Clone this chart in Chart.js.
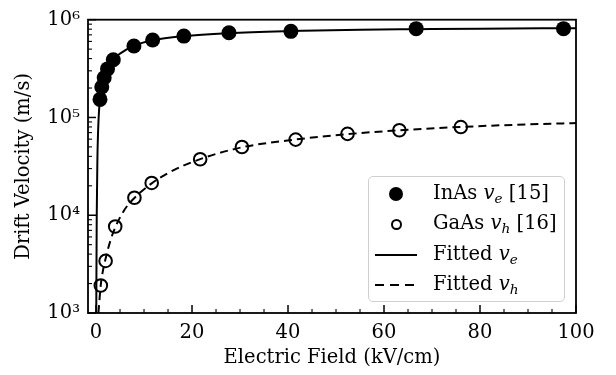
<!DOCTYPE html>
<html><head><meta charset="utf-8">
<script src="https://cdn.jsdelivr.net/npm/chart.js@4.4.1/dist/chart.umd.min.js"></script>
<style>
html,body{margin:0;padding:0;background:#fff;}
#wrap{position:relative;width:616px;height:375px;overflow:hidden;}
canvas{display:block;}
#legend{position:absolute;left:368px;top:176px;width:197px;height:126px;border:1.5px solid #cfcfcf;border-radius:5px;background:rgba(255,255,255,0.8);font-family:'DejaVu Serif',serif;font-size:19.5px;color:#000;box-sizing:border-box;}
.row{position:absolute;left:0;width:100%;height:0;}
.lbl{position:absolute;left:64px;top:-13px;line-height:24px;white-space:nowrap;}
.lbl i{font-style:italic;}
.lbl sub{font-size:70%;vertical-align:-0.3em;line-height:0;font-style:italic;}
.mk{position:absolute;box-sizing:border-box;}
.fill{left:20px;top:-7px;width:14px;height:14px;border-radius:50%;background:#000;}
.open{left:21.5px;top:-5.5px;width:11px;height:11px;border-radius:50%;border:2px solid #000;}
.solid{left:6px;top:-1px;width:42px;height:2px;background:#000;}
.dash{left:6px;top:-1px;width:41px;height:2px;background:repeating-linear-gradient(90deg,#000 0 9px,transparent 9px 15px);}
</style>
</head><body>
<div id="wrap">
<canvas id="c" width="616" height="375"></canvas>
<div id="legend">
  <div class="row" style="top:17px"><div class="mk fill"></div><div class="lbl">InAs <i>v</i><sub>e</sub> [15]</div></div>
  <div class="row" style="top:47px"><div class="mk open"></div><div class="lbl">GaAs <i>v</i><sub>h</sub> [16]</div></div>
  <div class="row" style="top:78px"><div class="mk solid"></div><div class="lbl">Fitted <i>v</i><sub>e</sub></div></div>
  <div class="row" style="top:108px"><div class="mk dash"></div><div class="lbl">Fitted <i>v</i><sub>h</sub></div></div>
</div>
</div>
<script>
// ---- data ----
const inasField = [0.83, 1.2, 1.7, 2.4, 3.6, 7.9, 11.8, 18.3, 27.7, 40.6, 66.7, 97.4];
const inasVel   = [1.53e5, 2.05e5, 2.55e5, 3.14e5, 3.89e5, 5.38e5, 6.2e5, 6.8e5, 7.35e5, 7.6e5, 8.1e5, 8.1e5];

const gaasField = [1.0, 2.0, 4.0, 8.0, 11.6, 21.7, 30.4, 41.6, 52.4, 63.2, 76.0];
const gaasVel   = [1.91e3, 3.41e3, 7.67e3, 1.51e4, 2.14e4, 3.74e4, 4.99e4, 5.94e4, 6.8e4, 7.4e4, 7.98e4];

const fitEField = [0.05, 0.15, 0.3, 0.55, 0.83, 1.2, 1.7, 2.4, 3.6, 5.0, 7.9, 11.8, 18.3, 27.7, 40.0, 55.0, 67.0, 80.0, 100.0];
const fitEVel   = [1.0e3, 1.0e4, 4.0e4, 1.0e5, 1.52e5, 2.03e5, 2.55e5, 3.12e5, 3.9e5, 4.5e5, 5.4e5, 6.15e5, 6.8e5, 7.3e5, 7.65e5, 7.9e5, 8.0e5, 8.1e5, 8.2e5];

const fitHField = [0.5, 1.0, 1.5, 2.0, 3.0, 4.0, 6.0, 8.0, 11.6, 15.0, 21.7, 30.4, 41.6, 52.4, 63.2, 76.0, 90.0, 100.0];
const fitHVel   = [1.0e3, 1.95e3, 2.8e3, 3.6e3, 5.5e3, 7.5e3, 1.15e4, 1.5e4, 2.12e4, 2.7e4, 3.75e4, 4.95e4, 5.95e4, 6.75e4, 7.4e4, 8.0e4, 8.5e4, 8.77e4];

const xMajorTicks = [0, 20, 40, 60, 80, 100];
const xMinorTicks = [5, 10, 15, 25, 30, 35, 45, 50, 55, 65, 70, 75, 85, 90, 95];
const yMajorTicks = [1e3, 1e4, 1e5, 1e6];
const yMajorLabels = ['10³', '10⁴', '10⁵', '10⁶'];
const yMinorTicks = [2e3,3e3,4e3,5e3,6e3,7e3,8e3,9e3,2e4,3e4,4e4,5e4,6e4,7e4,8e4,9e4,2e5,3e5,4e5,5e5,6e5,7e5,8e5,9e5];

const toXY = (xs, ys) => xs.map((x, i) => ({x, y: ys[i]}));

Chart.defaults.font.family = "'DejaVu Serif', serif";
Chart.defaults.color = '#000';

const frameTicks = {
  id: 'frameTicks',
  afterDraw(chart) {
    const {ctx, chartArea: {left, right, top, bottom}, scales: {x, y}} = chart;
    ctx.save();
    ctx.strokeStyle = '#000';
    const seg = (x1, y1, x2, y2) => { ctx.beginPath(); ctx.moveTo(x1, y1); ctx.lineTo(x2, y2); ctx.stroke(); };
    ctx.lineWidth = 1.5;
    xMajorTicks.forEach(v => { const p = x.getPixelForValue(v); seg(p, bottom, p, bottom - 8); });
    yMajorTicks.forEach(v => { const p = y.getPixelForValue(v); seg(left, p, left + 8, p); });
    ctx.lineWidth = 1.1;
    xMinorTicks.forEach(v => { const p = x.getPixelForValue(v); seg(p, bottom, p, bottom - 4); });
    yMinorTicks.forEach(v => { const p = y.getPixelForValue(v); seg(left, p, left + 4, p); });
    ctx.lineWidth = 1.8;
    ctx.strokeRect(left, top, right - left, bottom - top);
    ctx.restore();
  }
};

new Chart(document.getElementById('c'), {
  type: 'scatter',
  data: {
    datasets: [
      { label: 'InAs ve [15]', data: toXY(inasField, inasVel), showLine: false,
        pointRadius: 7.5, pointBackgroundColor: '#000', pointBorderColor: '#000', pointBorderWidth: 0 },
      { label: 'GaAs vh [16]', data: toXY(gaasField, gaasVel), showLine: false,
        pointRadius: 6.3, pointBackgroundColor: 'rgba(0,0,0,0)', pointBorderColor: '#000', pointBorderWidth: 2 },
      { label: 'Fitted ve', data: toXY(fitEField, fitEVel), showLine: true, pointRadius: 0,
        borderColor: '#000', borderWidth: 2, cubicInterpolationMode: 'monotone' },
      { label: 'Fitted vh', data: toXY(fitHField, fitHVel), showLine: true, pointRadius: 0,
        borderColor: '#000', borderWidth: 2, borderDash: [8, 5], cubicInterpolationMode: 'monotone' }
    ]
  },
  options: {
    responsive: false,
    animation: false,
    events: [],
    layout: { padding: { left: 0, right: 40, top: 15, bottom: 0 } },
    plugins: { legend: { display: false }, tooltip: { enabled: false } },
    scales: {
      x: {
        type: 'linear', min: -1.67, max: 100,
        grid: { display: false, drawTicks: false },
        border: { display: false },
        afterBuildTicks: s => { s.ticks = xMajorTicks.map(v => ({value: v})); },
        afterFit: s => { s.height = 62; },
        ticks: { font: { size: 19.5 }, padding: 8, maxRotation: 0, autoSkip: false, callback: v => String(v) },
        title: { display: true, text: 'Electric Field (kV/cm)', font: { size: 19.5 }, padding: { top: 0, bottom: 5 } }
      },
      y: {
        type: 'logarithmic', min: 1e3, max: 1e6,
        grid: { display: false, drawTicks: false },
        border: { display: false },
        afterBuildTicks: s => { s.ticks = yMajorTicks.map(v => ({value: v})); },
        afterFit: s => { s.width = 88; },
        ticks: { font: { size: 19.5 }, padding: 8, autoSkip: false,
          callback: v => { const i = yMajorTicks.indexOf(v); return i >= 0 ? yMajorLabels[i] : ''; } },
        title: { display: true, text: 'Drift Velocity (m/s)', font: { size: 19.5 }, padding: { top: 12, bottom: 0 } }
      }
    }
  },
  plugins: [frameTicks]
});
</script>
</body></html>
